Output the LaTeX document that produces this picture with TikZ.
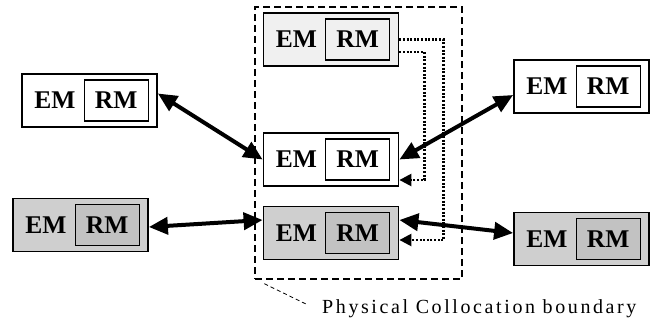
\documentclass[tikz,border=0pt]{standalone}
\usepackage{fontspec}
\setmainfont{Liberation Serif}
\usetikzlibrary{arrows.meta,positioning}

\begin{document}
\begin{tikzpicture}[
  x=1pt, y=-1pt,
  box/.style={draw, line width=1.8pt, minimum width=135pt, minimum height=53pt, inner sep=0pt},
  rmbox/.style={draw, line width=1.4pt, minimum width=64pt, minimum height=41pt, inner sep=0pt, font=\fontsize{25.5}{28}\selectfont\bfseries},
  emtext/.style={inner sep=0pt, font=\fontsize{25.5}{28}\selectfont\bfseries},
  arrowB/.style={{Triangle[length=19pt,width=17pt]}-{Triangle[length=19pt,width=17pt]}, line width=4pt},
  arrowD/.style={-{Triangle[length=12pt,width=12pt]}, line width=2.4pt, dash pattern=on 2pt off 1.6pt},
  leader/.style={line width=0.8pt, dash pattern=on 4pt off 3pt}
]
\useasboundingbox (0,0) rectangle (660,330);

% Collocation boundary
\node[draw, line width=1.4pt, dash pattern=on 7pt off 4pt, minimum width=207pt, minimum height=272pt] (colloc) at (358.5,143) {};

% Boxes inside the boundary
\node[box, fill=gray!12] (ct) at (331,39.5) {};
\node[rmbox, fill=gray!12, left=9pt of ct.east] (ctRM) {RM};
\node[emtext, right=13pt of ct.west] (ctEM) {EM};

\node[box, fill=white] (cm) at (331,159.5) {};
\node[rmbox, fill=white, left=9pt of cm.east] (cmRM) {RM};
\node[emtext, right=13pt of cm.west] (cmEM) {EM};

\node[box, fill=gray!38] (cb) at (331,233) {};
\node[rmbox, fill=gray!48, left=9pt of cb.east] (cbRM) {RM};
\node[emtext, right=13pt of cb.west] (cbEM) {EM};

% Boxes outside
\node[box, fill=white] (lt) at (89.5,100.5) {};
\node[rmbox, fill=white, left=9pt of lt.east] (ltRM) {RM};
\node[emtext, right=13pt of lt.west] (ltEM) {EM};

\node[box, fill=gray!38] (lb) at (80.5,225) {};
\node[rmbox, fill=gray!48, left=9pt of lb.east] (lbRM) {RM};
\node[emtext, right=13pt of lb.west] (lbEM) {EM};

\node[box, fill=white] (rt) at (581.5,86.5) {};
\node[rmbox, fill=white, left=9pt of rt.east] (rtRM) {RM};
\node[emtext, right=13pt of rt.west] (rtEM) {EM};

\node[box, fill=gray!38] (rb) at (581.5,239) {};
\node[rmbox, fill=gray!48, left=9pt of rb.east] (rbRM) {RM};
\node[emtext, right=13pt of rb.west] (rbEM) {EM};

% Links
\draw[arrowB] ([yshift=7pt]lt.east) -- (cm.west);
\draw[arrowB] ([yshift=-2pt]lb.east) -- ([yshift=13pt]cb.west);
\draw[arrowB] ([yshift=-8.5pt]rt.west) -- (cm.east);
\draw[arrowB] ([yshift=13pt]cb.east) -- ([yshift=6pt]rb.west);

% Dotted paths from the top box
\draw[arrowD] (ct.east) -- ++(44,0) |- ([yshift=-7pt]cb.east);
\draw[arrowD] ([yshift=-12.5pt]ct.east) -- ++(25,0) |- ([yshift=-20.5pt]cm.east);

% Label
\node[anchor=base west, inner sep=0pt, font=\fontsize{20}{24}\selectfont\addfontfeature{LetterSpace=13}] (lbl) at (322,313) {Physical Collocation boundary};
\draw[leader] ([shift={(10pt,-4pt)}]colloc.south west) -- ([shift={(-14pt,8pt)}]lbl.base west);
\end{tikzpicture}
\end{document}
